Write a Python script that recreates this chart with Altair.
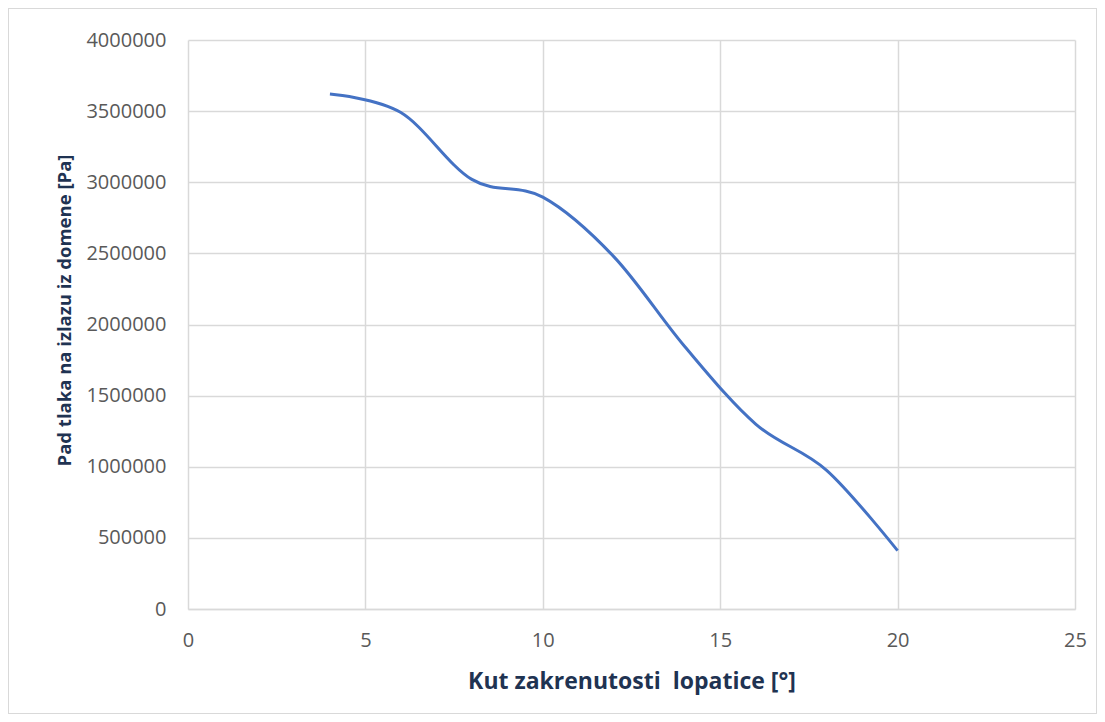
import altair as alt
import pandas as pd

angles = [4, 6, 8, 10, 12, 14, 16, 18, 20]
pressure_drop = [3620000, 3490000, 3020000, 2895000, 2477000, 1845000, 1300000, 975000, 410000]

df = pd.DataFrame({"kut": angles, "pad": pressure_drop})

TITLE_COLOR = "#1f3352"
LABEL_COLOR = "#595959"
GRID_COLOR = "#d9d9d9"
FONT = "Open Sans"

line = alt.Chart(df).mark_line(
    interpolate="cardinal", tension=0, color="#4472c4", strokeWidth=3, clip=False
).encode(
    x=alt.X(
        "kut:Q",
        scale=alt.Scale(domain=[0, 25], nice=False),
        axis=alt.Axis(
            title="Kut zakrenutosti\u00a0 lopatice [°]",
            values=[0, 5, 10, 15, 20, 25],
            grid=True,
            ticks=False,
            domain=True,
            domainColor=GRID_COLOR,
            domainWidth=1.5,
            labelFlush=False,
            labelPadding=21,
            titlePadding=20,
            titleFontSize=23,
        ),
    ),
    y=alt.Y(
        "pad:Q",
        scale=alt.Scale(domain=[0, 4000000], nice=False),
        axis=alt.Axis(
            title="Pad tlaka na izlazu iz domene [Pa]",
            values=[0, 500000, 1000000, 1500000, 2000000, 2500000, 3000000, 3500000, 4000000],
            format="d",
            grid=True,
            ticks=False,
            domain=False,
            labelFlush=False,
            labelPadding=22,
            titlePadding=11,
            titleFontSize=18.5,
            titleY=270,
        ),
    ),
)

frame = alt.Chart(df).mark_rect(
    fill=None, stroke="#d9d9d9", strokeWidth=1.5, clip=False
).encode(
    x=alt.value(-180), x2=alt.value(909), y=alt.value(-32), y2=alt.value(674)
)

chart = alt.layer(frame, line).properties(
    width=887,
    height=569,
    autosize=alt.AutoSizeParams(type="none"),
    padding={"left": 180, "top": 32, "right": 22, "bottom": 105},
    background="white",
).configure_view(
    stroke=None
).configure_axis(
    gridColor=GRID_COLOR,
    gridWidth=1.5,
    labelFont=FONT,
    labelFontSize=20,
    labelColor=LABEL_COLOR,
    titleFont=FONT,
    titleFontWeight="bold",
    titleColor=TITLE_COLOR,
)

chart.save("out.html", embed_options={"renderer": "svg", "actions": False})
